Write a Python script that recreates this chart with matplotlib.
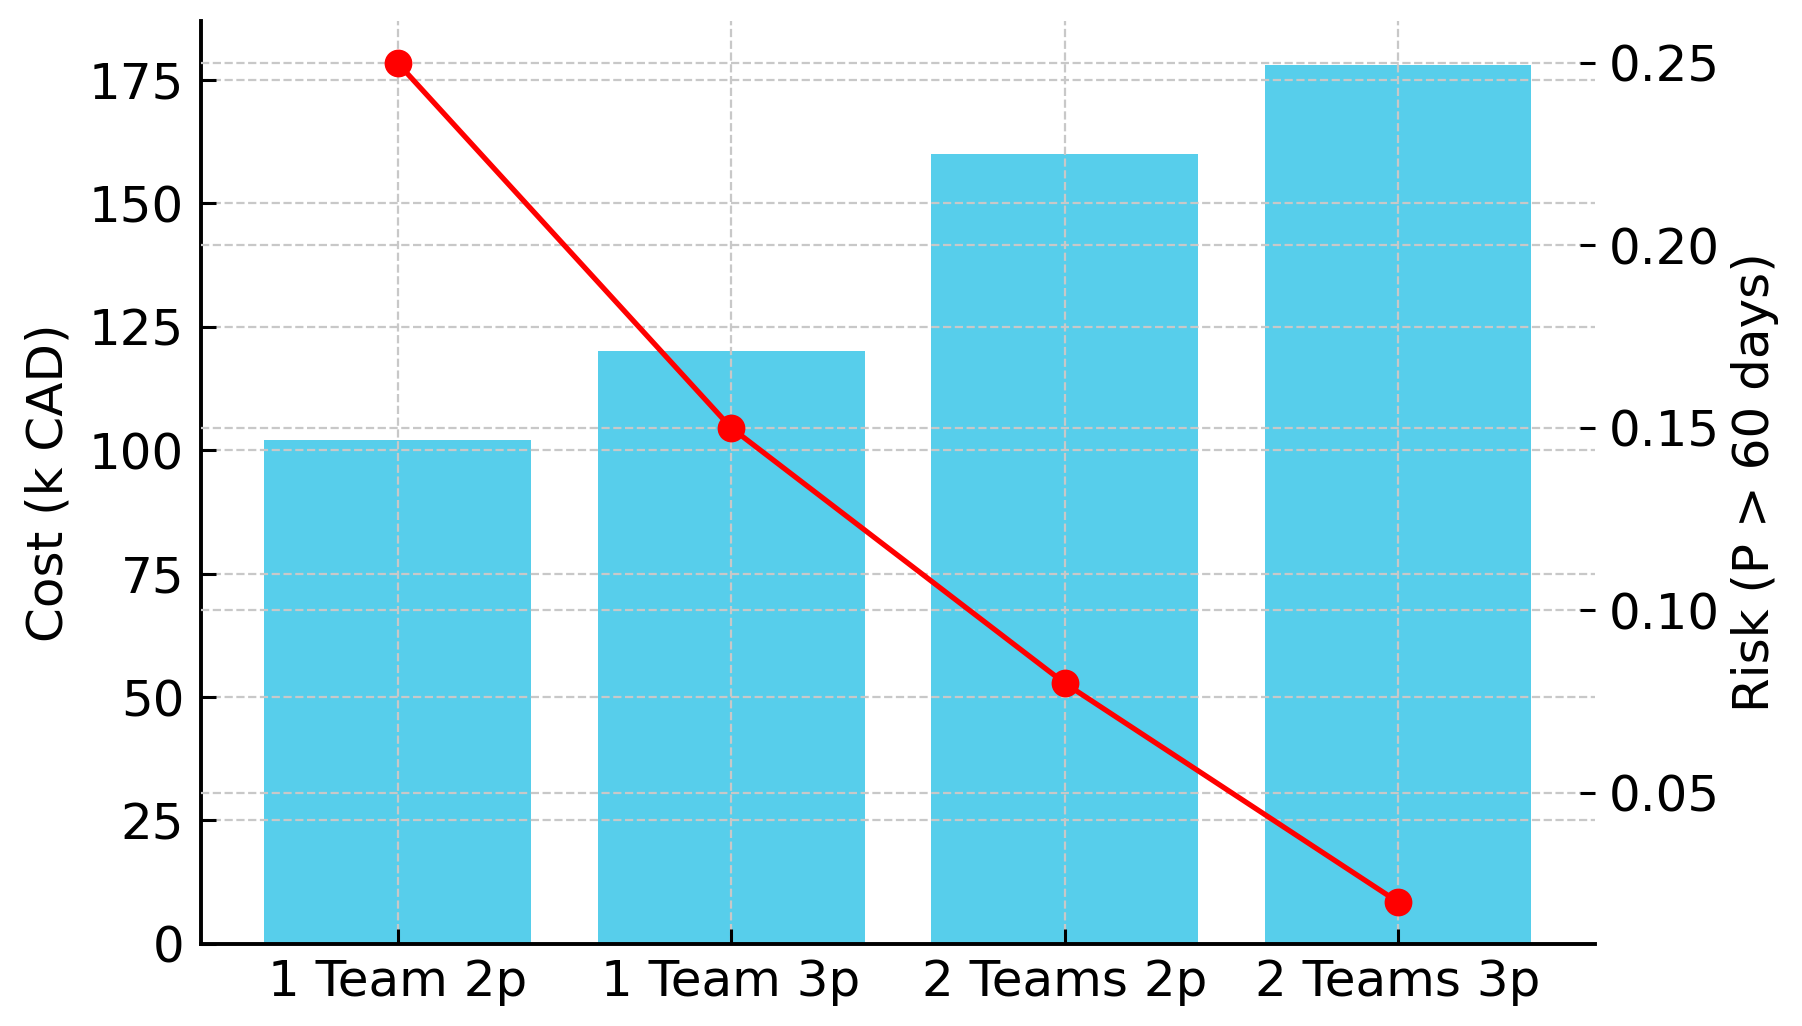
import numpy as np
import matplotlib
matplotlib.use("Agg")
import matplotlib.pyplot as plt

# chart data
options = ["1 Team 2p", "1 Team 3p", "2 Teams 2p", "2 Teams 3p"]
cost_k_cad = [102, 120, 160, 178]
risk_over_60 = [0.25, 0.15, 0.08, 0.02]

plt.rcParams["font.family"] = "DejaVu Sans"
plt.rcParams["font.size"] = 18

fig, ax = plt.subplots(figsize=(9.01, 5.13), dpi=200)
fig.subplots_adjust(left=0.1115, right=0.885, top=0.9795, bottom=0.080)

x = np.arange(len(options))
ax.bar(x, cost_k_cad, width=0.8, color="#57CEEB")
ax.set_xticks(x)
ax.set_xticklabels(options)
ax.set_ylabel("Cost (k CAD)", labelpad=6)
ax.set_axisbelow(False)
ax.grid(True, linestyle="--", color="#c8c8c8", linewidth=0.8)

ax2 = ax.twinx()
ax2.plot(x, risk_over_60, color="red", marker="o", linewidth=1.9, markersize=9)
ax2.set_ylabel("Risk (P > 60 days)")
ax2.grid(True, axis="y", linestyle="--", color="#c8c8c8", linewidth=0.8)

for a in (ax, ax2):
    a.spines["top"].set_visible(False)
    a.spines["right"].set_visible(False)
    a.spines["left"].set_linewidth(1.4)
    a.spines["bottom"].set_linewidth(1.4)
    a.spines["left"].set_zorder(5)
    a.spines["bottom"].set_zorder(5)
ax2.spines["left"].set_visible(False)
ax2.spines["bottom"].set_visible(False)

ax.tick_params(axis="both", direction="in", length=5.5, width=1.1)
ax.tick_params(axis="y", pad=6)
ax.tick_params(axis="x", pad=5)
ax2.tick_params(axis="y", direction="in", length=5.5, width=1.1, pad=5)

fig.savefig("out.png", dpi=200)
